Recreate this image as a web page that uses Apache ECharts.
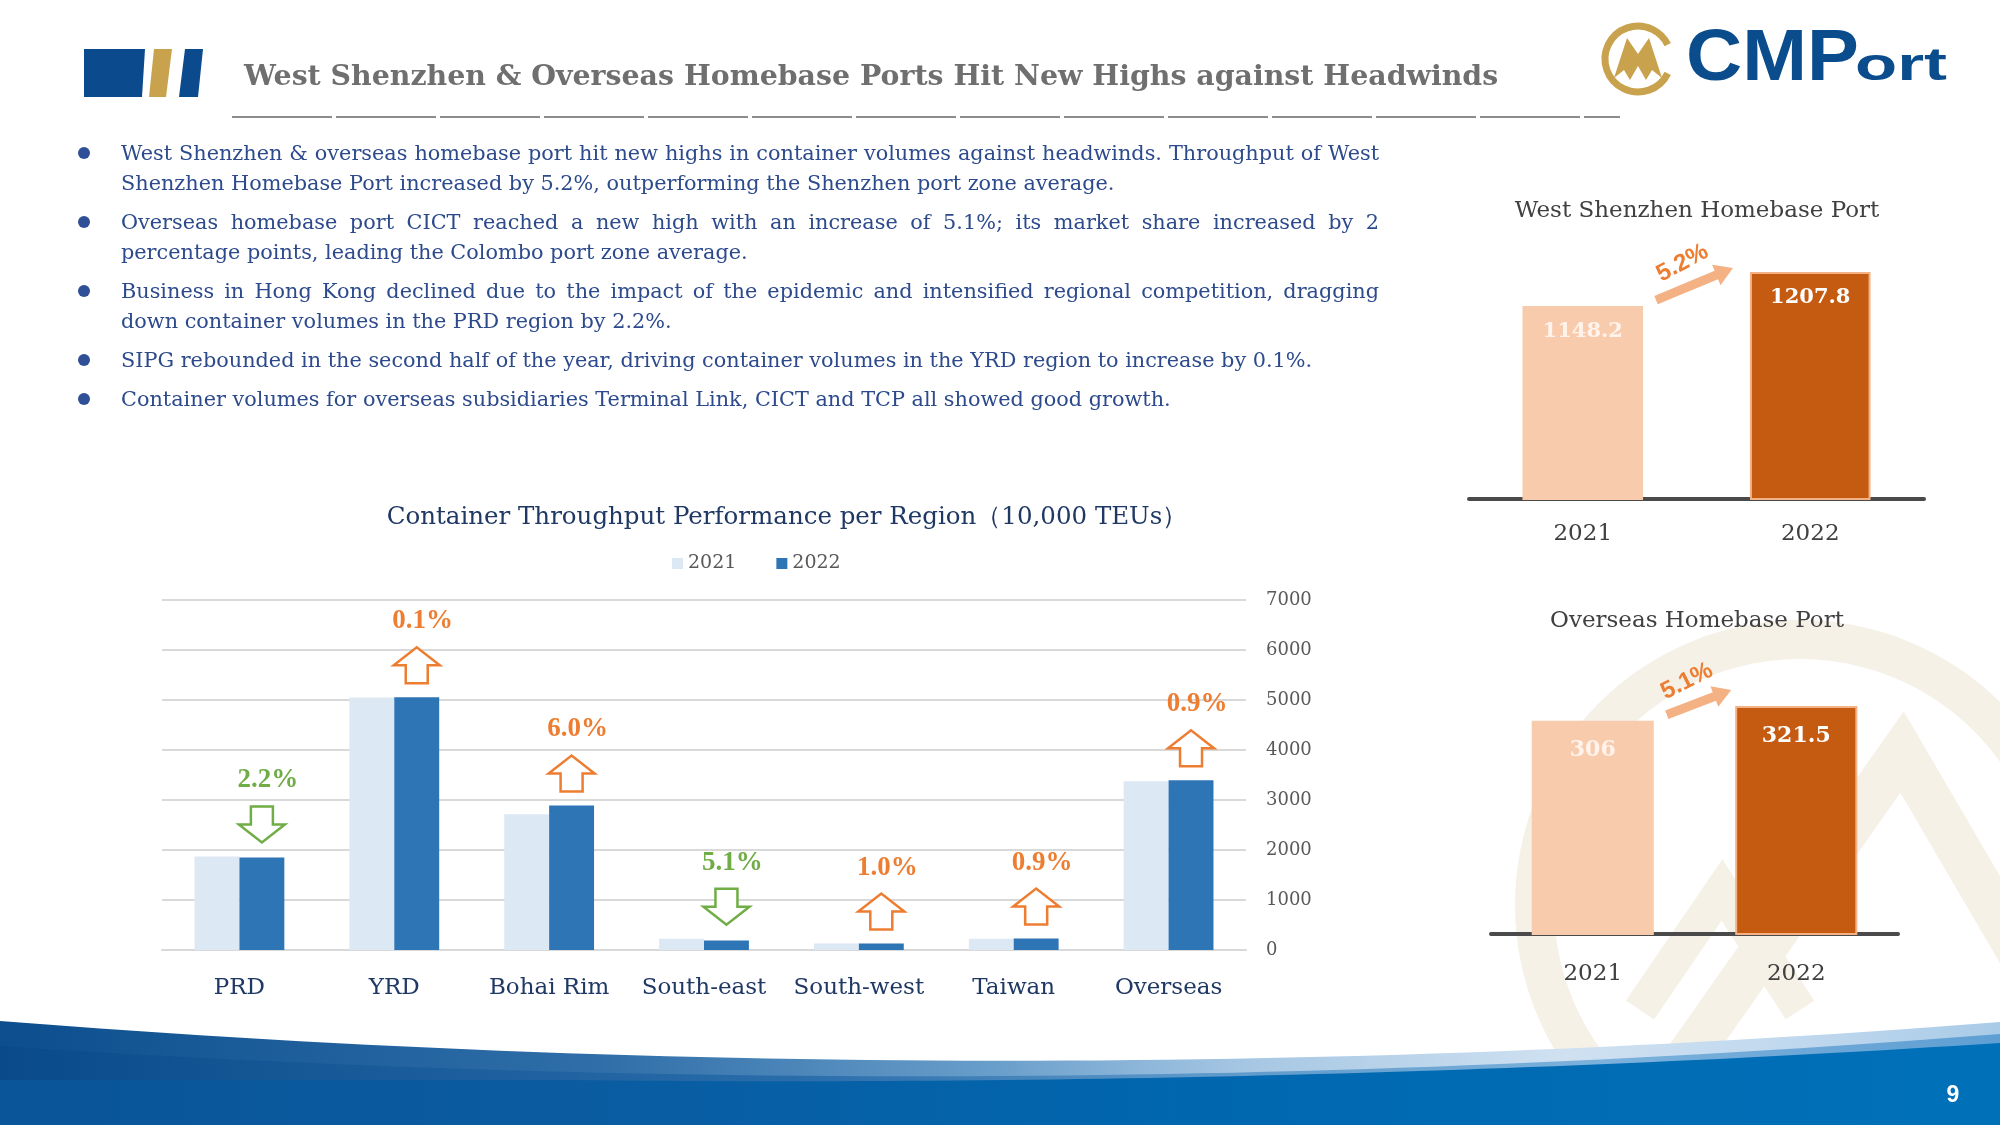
<!DOCTYPE html>
<html>
<head>
<meta charset="utf-8">
<script src="https://cdn.jsdelivr.net/npm/echarts@6/dist/echarts.min.js"></script>
<style>
  html, body { margin: 0; padding: 0; background: #ffffff; }
  #main { position: absolute; left: 0; top: 0; width: 2000px; height: 1125px; }
  #bullets { position: absolute; left: 121px; top: 138px; width: 1258px; font-family: "DejaVu Serif", serif; font-size: 20.8px; line-height: 30px; color: #2c4a8c; }
  .para { position: relative; margin-bottom: 9px; }
  .para::before { content: ""; position: absolute; left: -43px; top: 9px; width: 12px; height: 12px; border-radius: 50%; background: #2f4f96; }
  .line { display: block; white-space: nowrap; }
  .just { text-align: justify; text-align-last: justify; white-space: normal; }
</style>
</head>
<body>
<div id="main"></div>
<div id="bullets"></div>
<script>
// ---------------- data ----------------
const regions = ['PRD', 'YRD', 'Bohai Rim', 'South-east', 'South-west', 'Taiwan', 'Overseas'];
const vol2021 = [1870, 5050, 2715, 225, 128, 226, 3375];
const vol2022 = [1850, 5055, 2890, 190, 128, 228, 3395];
const changeLabels = ['2.2%', '0.1%', '6.0%', '5.1%', '1.0%', '0.9%', '0.9%'];
const changeDir = ['down', 'up', 'up', 'down', 'up', 'up', 'up'];
const yTicks = [0, 1000, 2000, 3000, 4000, 5000, 6000, 7000];

const years = ['2021', '2022'];
const westShenzhen = [1148.2, 1207.8];
const overseasHome = [306, 321.5];
const westGrowth = '5.2%';
const overseasGrowth = '5.1%';

const titleText = 'West Shenzhen & Overseas Homebase Ports Hit New Highs against Headwinds';
const chartTitle = 'Container Throughput Performance per Region（10,000 TEUs）';
const bullets = [
  ['West Shenzhen & overseas homebase port hit new highs in container volumes against headwinds. Throughput of West',
   'Shenzhen Homebase Port increased by 5.2%, outperforming the Shenzhen port zone average.'],
  ['Overseas homebase port CICT reached a new high with an increase of 5.1%; its market share increased by 2',
   'percentage points, leading the Colombo port zone average.'],
  ['Business in Hong Kong declined due to the impact of the epidemic and intensified regional competition, dragging',
   'down container volumes in the PRD region by 2.2%.'],
  ['SIPG rebounded in the second half of the year, driving container volumes in the YRD region to increase by 0.1%.'],
  ['Container volumes for overseas subsidiaries Terminal Link, CICT and TCP all showed good growth.']
];

// ---------------- bullets (HTML text) ----------------
const bl = document.getElementById('bullets');
bullets.forEach(lines => {
  const p = document.createElement('div');
  p.className = 'para';
  lines.forEach((t, k) => {
    const s = document.createElement('span');
    s.className = 'line' + (k < lines.length - 1 ? ' just' : '');
    s.textContent = t;
    p.appendChild(s);
  });
  bl.appendChild(p);
});

// ---------------- helpers for decoration ----------------
function quadBand(x0, y0, cx, cy, x1, y1, pre) {
  const pts = pre ? pre.slice() : [];
  for (let k = 0; k <= 60; k++) {
    const t = k / 60;
    pts.push([
      (1 - t) * (1 - t) * x0 + 2 * t * (1 - t) * cx + t * t * x1,
      (1 - t) * (1 - t) * y0 + 2 * t * (1 - t) * cy + t * t * y1
    ]);
  }
  pts.push([2000, 1125], [0, 1125]);
  return pts;
}

// ---------------- chart ----------------
const MAIN_GAP = 0.42;
const TOP_GAP = 0.47;
const BOT_GAP = 0.40;
const serif = '"DejaVu Serif", serif';

function renderChange(params, api) {
  const i = params.dataIndex;
  const p = api.coord([api.value(0), api.value(1)]);
  const band = api.size([1, 0])[0];
  const barW = band * (1 - MAIN_GAP) / 2;
  const cx = p[0] + barW / 2;
  const by = p[1] - 14;
  const up = changeDir[i] === 'up';
  const color = up ? '#ed7d31' : '#70ad47';
  const H = 36, hh = 18, hw = 23, sw = 11;
  let pts;
  if (up) {
    pts = [[cx - sw, by], [cx + sw, by], [cx + sw, by - H + hh], [cx + hw, by - H + hh], [cx, by - H], [cx - hw, by - H + hh], [cx - sw, by - H + hh]];
  } else {
    pts = [[cx - sw, by - H], [cx + sw, by - H], [cx + sw, by - hh], [cx + hw, by - hh], [cx, by], [cx - hw, by - hh], [cx - sw, by - hh]];
  }
  return {
    type: 'group',
    children: [
      { type: 'polygon', shape: { points: pts }, style: { fill: '#ffffff', stroke: color, lineWidth: 2.5 } },
      { type: 'text', style: { text: changeLabels[i], x: cx + 6, y: by - H - 26, align: 'center', verticalAlign: 'middle', font: 'bold 27px "Liberation Serif"', fill: color } }
    ]
  };
}

function growthArrow(gap, label, endDx, endDy) {
  return function (params, api) {
    const p1 = api.coord([api.value(0), api.value(1)]);
    const p2 = api.coord([api.value(2), api.value(3)]);
    const band = api.size([1, 0])[0];
    const bw = band * (1 - gap);
    const x1 = p1[0] + bw / 2 + 13, y1 = p1[1] - 6;
    const x2 = p2[0] - bw / 2 + endDx, y2 = p2[1] + endDy;
    const dx = x2 - x1, dy = y2 - y1, L = Math.hypot(dx, dy);
    const ux = dx / L, uy = dy / L, nx = -uy, ny = ux;
    const headL = 18, headW = 11, sw = 4.5;
    const bx = x2 - ux * headL, byy = y2 - uy * headL;
    const pts = [
      [x1 + nx * sw, y1 + ny * sw], [bx + nx * sw, byy + ny * sw], [bx + nx * headW, byy + ny * headW],
      [x2, y2], [bx - nx * headW, byy - ny * headW], [bx - nx * sw, byy - ny * sw], [x1 - nx * sw, y1 - ny * sw]
    ];
    const ang = Math.atan2(dy, dx);
    const mx = (x1 + x2) / 2 - 12, my = (y1 + y2) / 2 - 21;
    return {
      type: 'group',
      children: [
        { type: 'polygon', shape: { points: pts }, style: { fill: '#f4b183' } },
        { type: 'text', x: mx, y: my, rotation: -ang + 0.1, style: { text: label, x: 0, y: 0, align: 'center', verticalAlign: 'middle', font: 'bold 24px "Liberation Sans"', fill: '#ed7d31' } }
      ]
    };
  };
}

const smallColors = ['#f8cbad', '#c55a11'];
const smallBorders = ['#f8cbad', '#f4b183'];
const smallLabelColors = ['#fff3ec', '#ffffff'];
function smallData(arr) {
  return arr.map((v, i) => ({
    value: v,
    itemStyle: { color: smallColors[i], borderColor: smallBorders[i], borderWidth: 2 },
    label: { color: smallLabelColors[i] }
  }));
}

const chart = echarts.init(document.getElementById('main'), null, { renderer: 'canvas', width: 2000, height: 1125 });

function txt(text, x, y, font, fill, align) {
  return { type: 'text', style: { text: text, x: x, y: y, align: align || 'center', verticalAlign: 'middle', font: font, fill: fill } };
}

const graphics = [
  // watermark
  { type: 'ring', z: 0, shape: { cx: 1800, cy: 905, r: 285, r0: 246 }, style: { fill: '#f5f1e7' } },
  { type: 'polyline', z: 0, shape: { points: [[1640, 1125], [1902, 752], [2120, 1125]] }, style: { stroke: '#f5f1e7', lineWidth: 44, fill: null } },
  { type: 'polyline', z: 0, shape: { points: [[1640, 1010], [1722, 890], [1800, 1010]] }, style: { stroke: '#f5f1e7', lineWidth: 34, fill: null } },
  // footer waves
  { type: 'polygon', z: 1, shape: { points: quadBand(0, 1021, 1000, 1100, 2000, 1022) },
    style: { fill: new echarts.graphic.LinearGradient(0, 0, 1, 0, [
      { offset: 0, color: '#0c4e8e' }, { offset: 0.3, color: '#2f6ea8' }, { offset: 0.5, color: '#6a9fcb' },
      { offset: 0.62, color: '#a5c6e3' }, { offset: 0.78, color: '#cfe1f1' }, { offset: 0.9, color: '#c0d8ee' }, { offset: 1, color: '#a9cbe7' }]) } },
  { type: 'polygon', z: 1, shape: { points: quadBand(0, 1046, 1000, 1112, 2000, 1034) },
    style: { fill: new echarts.graphic.LinearGradient(0, 0, 1, 0, [
      { offset: 0, color: '#0a4a8a' }, { offset: 0.4, color: '#2a6dab' }, { offset: 0.6, color: '#5c98c9' },
      { offset: 0.8, color: '#7cb1dc' }, { offset: 1, color: '#5f9fd3' }]) } },
  { type: 'polygon', z: 1, shape: { points: quadBand(570, 1080, 1300, 1088, 2000, 1043, [[0, 1080]]) },
    style: { fill: new echarts.graphic.LinearGradient(0, 0, 1, 0, [
      { offset: 0, color: '#0a5499' }, { offset: 0.3, color: '#0a5ca1' }, { offset: 0.6, color: '#0067af' }, { offset: 1, color: '#0071b9' }]) } },
  Object.assign(txt('9', 1953, 1096, 'bold 23px "Liberation Sans"', '#ffffff'), { z: 2 }),
  // header blocks
  { type: 'polygon', shape: { points: [[84, 49], [145, 49], [142, 97], [84, 97]] }, style: { fill: '#0b4a8c' } },
  { type: 'polygon', shape: { points: [[154, 49], [172, 49], [166, 97], [149, 97]] }, style: { fill: '#c9a24e' } },
  { type: 'polygon', shape: { points: [[185, 49], [203, 49], [198, 97], [179, 97]] }, style: { fill: '#0b4a8c' } },
  txt(titleText, 244, 78, 'bold 28.4px "DejaVu Serif"', '#6f6f6f', 'left'),
  { type: 'line', shape: { x1: 232, y1: 117, x2: 1620, y2: 117 }, style: { stroke: '#8c8c8c', lineWidth: 2, lineDash: [100, 4] } },
  // CMPort logo
  { type: 'arc', shape: { cx: 1638, cy: 59, r: 33, startAngle: 0.45, endAngle: Math.PI * 2 - 0.45 }, style: { stroke: '#c9a24e', lineWidth: 7, fill: null } },
  { type: 'polygon', shape: { points: [[1614, 78], [1627, 38], [1638, 54], [1649, 38], [1662, 78], [1652, 70], [1646, 80], [1638, 66], [1630, 80], [1624, 70]] }, style: { fill: '#c9a24e' } },
  { type: 'text', x: 1686, y: 60, scaleX: 1.08, style: { text: 'CMP', x: 0, y: 0, align: 'left', verticalAlign: 'middle', font: '900 72px "Liberation Sans"', fill: '#0b4d8c' } },
  { type: 'text', x: 1855, y: 67, scaleX: 1.5, style: { text: 'ort', x: 0, y: 0, align: 'left', verticalAlign: 'middle', font: 'bold 46px "Liberation Sans"', fill: '#0b4d8c' } },
  // chart titles
  txt(chartTitle, 787, 518, '24.5px "DejaVu Serif"', '#1f3864'),
  txt('West Shenzhen Homebase Port', 1697, 211, '23px "DejaVu Serif"', '#404040'),
  txt('Overseas Homebase Port', 1697, 621, '23px "DejaVu Serif"', '#404040')
];

const option = {
  animation: false,
  backgroundColor: '#ffffff',
  textStyle: { fontFamily: serif },
  legend: {
    data: ['2021', '2022'],
    left: 667, top: 549,
    itemWidth: 11, itemHeight: 11, itemGap: 40,
    icon: 'rect',
    textStyle: { color: '#595959', fontSize: 19, fontFamily: serif }
  },
  grid: [
    { left: 162, right: 754, top: 600, bottom: 175 },
    { left: 1469, right: 76, top: 248, bottom: 626 },
    { left: 1491, right: 102, top: 632, bottom: 191 }
  ],
  xAxis: [
    { gridIndex: 0, type: 'category', data: regions,
      axisLine: { lineStyle: { color: '#d9d9d9', width: 2 } }, axisTick: { show: false },
      axisLabel: { color: '#1f3864', fontSize: 23, fontFamily: serif, margin: 27, interval: 0 } },
    { gridIndex: 1, type: 'category', data: years,
      axisLine: { lineStyle: { color: '#4a4a4a', width: 4 } }, axisTick: { show: false },
      axisLabel: { color: '#404040', fontSize: 23, fontFamily: serif, margin: 24, interval: 0 } },
    { gridIndex: 2, type: 'category', data: years,
      axisLine: { lineStyle: { color: '#4a4a4a', width: 4 } }, axisTick: { show: false },
      axisLabel: { color: '#404040', fontSize: 23, fontFamily: serif, margin: 29, interval: 0 } }
  ],
  yAxis: [
    { gridIndex: 0, type: 'value', position: 'right', min: yTicks[0], max: yTicks[yTicks.length - 1], interval: yTicks[1] - yTicks[0],
      axisLine: { show: false }, axisTick: { show: false },
      axisLabel: { color: '#595959', fontSize: 18, fontFamily: serif, margin: 20, formatter: v => String(v) },
      splitLine: { lineStyle: { color: '#d9d9d9', width: 2 } } },
    { gridIndex: 1, type: 'value', min: 810, max: 1250, show: false },
    { gridIndex: 2, type: 'value', min: 80, max: 400, show: false }
  ],
  series: [
    { name: '2021', type: 'bar', xAxisIndex: 0, yAxisIndex: 0, data: vol2021, barGap: '0%', barCategoryGap: (MAIN_GAP * 100) + '%',
      itemStyle: { color: '#dde8f5' } },
    { name: '2022', type: 'bar', xAxisIndex: 0, yAxisIndex: 0, data: vol2022, barGap: '0%', barCategoryGap: (MAIN_GAP * 100) + '%',
      itemStyle: { color: '#2e75b6' } },
    { name: 'change', type: 'custom', xAxisIndex: 0, yAxisIndex: 0, z: 5,
      data: regions.map((r, i) => [i, Math.max(vol2021[i], vol2022[i])]),
      encode: { x: 0, y: 1 }, renderItem: renderChange },
    { name: 'West Shenzhen Homebase Port', type: 'bar', xAxisIndex: 1, yAxisIndex: 1, data: smallData(westShenzhen),
      barCategoryGap: (TOP_GAP * 100) + '%',
      label: { show: true, position: 'insideTop', distance: 15, fontFamily: serif, fontWeight: 'bold', fontSize: 21 } },
    { name: 'westGrowth', type: 'custom', xAxisIndex: 1, yAxisIndex: 1, z: 5,
      data: [[0, westShenzhen[0], 1, westShenzhen[1]]], encode: { x: 0, y: 1 },
      renderItem: growthArrow(TOP_GAP, westGrowth, -17, -4) },
    { name: 'Overseas Homebase Port', type: 'bar', xAxisIndex: 2, yAxisIndex: 2, data: smallData(overseasHome),
      barCategoryGap: (BOT_GAP * 100) + '%',
      label: { show: true, position: 'insideTop', distance: 19, fontFamily: serif, fontWeight: 'bold', fontSize: 22 } },
    { name: 'overseasGrowth', type: 'custom', xAxisIndex: 2, yAxisIndex: 2, z: 5,
      data: [[0, overseasHome[0], 1, overseasHome[1]]], encode: { x: 0, y: 1 },
      renderItem: growthArrow(BOT_GAP, overseasGrowth, -4, -16) }
  ],
  graphic: { elements: graphics }
};
chart.setOption(option);
</script>
</body>
</html>
